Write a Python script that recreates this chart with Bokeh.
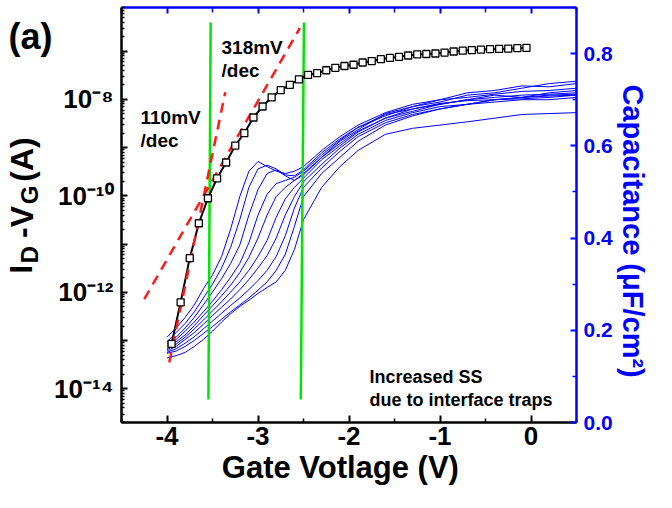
import math
from bokeh.plotting import figure
from bokeh.models import (Range1d, LinearAxis, FixedTicker, Label, LinearScale,
                          PrintfTickFormatter, CustomJSTickFormatter)
from bokeh.embed import file_html
from bokeh.resources import INLINE

FONT = "Liberation Sans"
BLUE = "#0000ff"
RED = "#ff1a1a"
GREEN = "#00e600"
NB = "\u00a0"

# ---------------- data ----------------
# I_D - V_G transfer curve (black squares)
vg_id = [-3.95, -3.85, -3.75, -3.65, -3.55, -3.45, -3.35, -3.25, -3.15, -3.05,
         -2.95, -2.85, -2.75, -2.65, -2.55, -2.45, -2.35, -2.25, -2.15, -2.05,
         -1.95, -1.85, -1.75, -1.65, -1.55, -1.45, -1.35, -1.25, -1.15, -1.05,
         -0.95, -0.85, -0.75, -0.65, -0.55, -0.45, -0.35, -0.25, -0.15, -0.05]
id_a = [8.5e-14, 6.2e-13, 5.1e-12, 2.7e-11, 8.9e-11, 2.3e-10, 4.9e-10, 1.1e-9, 2.0e-9, 4.2e-9,
        7.1e-9, 1.1e-8, 1.55e-8, 2.0e-8, 2.6e-8, 3.2e-8, 3.5e-8, 4.0e-8, 4.5e-8, 4.9e-8,
        5.2e-8, 5.8e-8, 6.2e-8, 6.8e-8, 7.2e-8, 7.6e-8, 8.1e-8, 8.5e-8, 8.7e-8, 8.9e-8,
        9.3e-8, 9.8e-8, 1.02e-7, 1.05e-7, 1.07e-7, 1.10e-7, 1.11e-7, 1.12e-7, 1.15e-7, 1.17e-7]

# subthreshold-swing fit lines (red dashed)
ss110_v = [-3.975, -3.36]
ss110_i = [3.5e-14, 1.4e-8]
ss318_v = [-4.25, -2.54]
ss318_i = [7.2e-13, 3.0e-7]

# green vertical markers
green1_v = [-3.52, -3.545]
green2_v = [-2.495, -2.53]
green_i = [3.9e-7, 6.0e-15]

# C-V curves (blue), capacitance in uF/cm^2
cap_v = [-4.0, -3.9, -3.8, -3.7, -3.6, -3.5, -3.4, -3.3, -3.2, -3.1, -3.0, -2.9, -2.8, -2.7,
         -2.6, -2.5, -2.3, -2.1, -1.9, -1.6, -1.3, -1.0, -0.7, -0.4, -0.1, 0.2, 0.5]
cap_a = [0.185, 0.205, 0.228, 0.255, 0.29, 0.32, 0.36, 0.42, 0.49, 0.545, 0.566, 0.555, 0.545, 0.54,
         0.545, 0.555, 0.59, 0.62, 0.645, 0.672, 0.69, 0.70, 0.705, 0.712, 0.718, 0.72, 0.725]
cap_b = [0.175, 0.195, 0.215, 0.24, 0.27, 0.30, 0.335, 0.38, 0.44, 0.51, 0.55, 0.558, 0.55, 0.537,
         0.535, 0.548, 0.585, 0.615, 0.64, 0.665, 0.685, 0.695, 0.71, 0.715, 0.725, 0.735, 0.74]
cap_c = [0.17, 0.185, 0.205, 0.228, 0.255, 0.283, 0.312, 0.345, 0.385, 0.45, 0.505, 0.54, 0.548, 0.535,
         0.525, 0.537, 0.575, 0.61, 0.635, 0.67, 0.685, 0.70, 0.715, 0.72, 0.73, 0.728, 0.735]
cap_d = [0.165, 0.18, 0.198, 0.218, 0.24, 0.263, 0.288, 0.315, 0.345, 0.39, 0.45, 0.495, 0.518, 0.525,
         0.532, 0.545, 0.58, 0.612, 0.64, 0.668, 0.68, 0.69, 0.70, 0.705, 0.71, 0.712, 0.715]
cap_e = [0.16, 0.175, 0.19, 0.21, 0.232, 0.253, 0.275, 0.298, 0.325, 0.358, 0.40, 0.45, 0.49, 0.51,
         0.525, 0.54, 0.575, 0.605, 0.632, 0.66, 0.68, 0.692, 0.698, 0.70, 0.705, 0.71, 0.712]
cap_f = [0.158, 0.17, 0.185, 0.203, 0.222, 0.242, 0.262, 0.283, 0.305, 0.33, 0.36, 0.395, 0.445, 0.485,
         0.51, 0.53, 0.57, 0.60, 0.63, 0.66, 0.675, 0.69, 0.70, 0.71, 0.705, 0.715, 0.72]
cap_g = [0.155, 0.165, 0.18, 0.195, 0.213, 0.232, 0.25, 0.268, 0.288, 0.31, 0.335, 0.362, 0.40, 0.45,
         0.49, 0.522, 0.56, 0.595, 0.625, 0.655, 0.672, 0.685, 0.69, 0.70, 0.705, 0.708, 0.71]
cap_h = [0.152, 0.16, 0.172, 0.186, 0.203, 0.22, 0.237, 0.254, 0.27, 0.288, 0.308, 0.33, 0.36, 0.405,
         0.465, 0.51, 0.552, 0.588, 0.62, 0.65, 0.668, 0.68, 0.69, 0.695, 0.70, 0.70, 0.705]
cap_i = [0.15, 0.155, 0.165, 0.178, 0.193, 0.208, 0.224, 0.24, 0.255, 0.27, 0.287, 0.305, 0.33, 0.365,
         0.425, 0.49, 0.54, 0.575, 0.61, 0.645, 0.665, 0.68, 0.69, 0.70, 0.702, 0.705, 0.71]
cap_j = [0.14, 0.145, 0.152, 0.165, 0.18, 0.198, 0.218, 0.236, 0.252, 0.265, 0.28, 0.293, 0.305, 0.33,
         0.375, 0.44, 0.51, 0.555, 0.59, 0.625, 0.638, 0.645, 0.652, 0.66, 0.668, 0.67, 0.672]
cap_curves = [cap_a, cap_b, cap_c, cap_d, cap_e, cap_f, cap_g, cap_h, cap_i, cap_j]

# ticks and tick labels
x_ticks = [-4, -3, -2, -1, 0]
x_minor = [-4.5, -3.5, -2.5, -1.5, -0.5, 0.5]
id_ticks = [1e-14, 1e-13, 1e-12, 1e-11, 1e-10, 1e-9, 1e-8, 1e-7]
id_tick_labels = ["10\u207b\u00b9\u2074", "", "10\u207b\u00b9\u00b2", "",
                  "10\u207b\u00b9\u2070", "", "10\u207b\u2078", ""]
id_minor = [m * 10.0 ** e for e in range(-15, -6) for m in range(2, 10)]
cap_ticks = [0.0, 0.2, 0.4, 0.6, 0.8]
cap_minor = [0.1, 0.3, 0.5, 0.7, 0.9]

# titles
x_title = "Gate Votlage (V)"
y_title_main = ["I", "-V", "(A)"]
y_title_sub = ["D", "G"]
y2_title = "Capacitance (\u03bcF/cm\u00b2)"
panel_tag = "(a)"

# ---------------- figure ----------------
FL, FB, FT = 128, 430, 15      # frame left / bottom / top in page px
def sx(px): return px - FL
def sy(py): return FB - py

p = figure(width=656, height=492, x_range=Range1d(-4.5, 0.5),
           y_range=Range1d(2.0e-15, 8.0e-7), y_axis_type="log",
           output_backend="svg", toolbar_location=None,
           min_border_left=120, min_border_right=80,
           min_border_top=7, min_border_bottom=70)
p.extra_y_ranges = {"cap": Range1d(0, 0.9), "page": Range1d(FB, FT)}
p.extra_y_scales = {"cap": LinearScale(), "page": LinearScale()}
p.xgrid.visible = False
p.ygrid.visible = False
p.outline_line_color = None
p.background_fill_color = "white"

def style_axis(ax, color, maj_in, min_in):
    ax.axis_line_color = color
    ax.axis_line_width = 2.5
    ax.major_tick_line_color = color
    ax.minor_tick_line_color = color
    ax.major_tick_line_width = 2
    ax.minor_tick_line_width = 1.5
    ax.major_tick_in = maj_in
    ax.major_tick_out = 0
    ax.minor_tick_in = min_in
    ax.minor_tick_out = 0

LOOKUP = ("for (let k = 0; k < pos.length; k++) {"
          " if (Math.abs(pos[k] - tick) <= 1e-6 * Math.abs(pos[k])) return labs[k]; }"
          " return '';")

# bottom axis
xa = p.xaxis[0]
xa.ticker = FixedTicker(ticks=x_ticks, minor_ticks=x_minor)
xa.formatter = CustomJSTickFormatter(code="return tick.toFixed(0);")
style_axis(xa, "black", 7, 4)
xa.major_label_text_font = FONT
xa.major_label_text_font_style = "bold"
xa.major_label_text_font_size = "26px"
xa.major_label_text_color = "black"
xa.major_label_standoff = 4
xa.axis_label = x_title + NB * 2
xa.axis_label_text_font = FONT
xa.axis_label_text_font_style = "bold"
xa.axis_label_text_font_size = "31px"
xa.axis_label_text_color = "black"
xa.axis_label_standoff = 2

# left (log) axis
ya = p.yaxis[0]
ya.ticker = FixedTicker(ticks=id_ticks, minor_ticks=id_minor)
ya.formatter = CustomJSTickFormatter(args=dict(pos=id_ticks, labs=id_tick_labels), code=LOOKUP)
style_axis(ya, "black", 6, 3)
ya.major_label_text_font = FONT
ya.major_label_text_font_style = "bold"
ya.major_label_text_font_size = "26px"
ya.major_label_text_color = "black"
ya.major_label_standoff = 8

def ghost_axis(side, ticks, labels, size, orient, standoff, color="black"):
    ax = LinearAxis(y_range_name="page",
                    ticker=FixedTicker(ticks=ticks, minor_ticks=[]),
                    formatter=CustomJSTickFormatter(args=dict(pos=ticks, labs=labels), code=LOOKUP),
                    major_label_orientation=orient, major_label_standoff=standoff,
                    major_label_text_font=FONT, major_label_text_font_style="bold",
                    major_label_text_font_size=f"{size}px", major_label_text_color=color,
                    axis_line_color=None, major_tick_line_color=None, minor_tick_line_color=None,
                    major_tick_in=0, major_tick_out=0, minor_tick_in=0, minor_tick_out=0)
    p.add_layout(ax, side)
    return ax

# left title pieces (positions along the page y)
ghost_axis("left", [262.0, 202.5], y_title_sub, 24, "parallel", 9)
ghost_axis("left", [276.7, 229.5, 167.0], y_title_main, 32, "parallel", -27)
ghost_axis("left", [43.5], [panel_tag], 36, "horizontal", -52)

# top axis
top = LinearAxis(ticker=FixedTicker(ticks=x_ticks, minor_ticks=x_minor),
                 formatter=CustomJSTickFormatter(code="return '';"),
                 major_label_text_font_size="0px", major_label_standoff=0)
style_axis(top, BLUE, 6, 5)
p.add_layout(top, "above")

# right axis
ra = LinearAxis(y_range_name="cap",
                ticker=FixedTicker(ticks=cap_ticks, minor_ticks=cap_minor),
                formatter=PrintfTickFormatter(format="%.1f"))
style_axis(ra, BLUE, 6, 4)
ra.major_label_text_font = FONT
ra.major_label_text_font_style = "bold"
ra.major_label_text_font_size = "21px"
ra.major_label_text_color = BLUE
ra.major_label_standoff = 7
ra.axis_label = NB * 4 + y2_title
ra.axis_label_text_font = FONT
ra.axis_label_text_font_style = "bold"
ra.axis_label_text_font_size = "29px"
ra.axis_label_text_color = BLUE
ra.axis_label_standoff = 1
p.add_layout(ra, "right")

# ---------------- glyphs ----------------
p.multi_line(xs=[cap_v] * len(cap_curves), ys=cap_curves, y_range_name="cap",
             line_color=BLUE, line_width=1)
p.line(green1_v, green_i, line_color=GREEN, line_width=2.5)
p.line(green2_v, green_i, line_color=GREEN, line_width=2.5)
p.line(vg_id, id_a, line_color="black", line_width=2)
p.line(ss110_v, ss110_i, line_color=RED, line_width=2.5, line_dash="10 7")
p.line(ss318_v, ss318_i, line_color=RED, line_width=2.5, line_dash="10 7")
p.scatter(vg_id, id_a, marker="square", size=7, fill_color="white",
          line_color="black", line_width=1.3)

# ---------------- in-frame annotations ----------------
def lab(text, px, py, size, color="black"):
    p.add_layout(Label(x=sx(px), y=sy(py), x_units="screen", y_units="screen",
                       text=text, text_font=FONT, text_font_style="bold",
                       text_font_size=f"{size}px", text_color=color,
                       text_align="left", text_baseline="alphabetic"))

lab("318mV", 228, 55, 19)
lab("/dec", 228, 78, 19)
lab("110mV", 147, 125, 19)
lab("/dec", 147, 148, 19)
lab("Increased SS", 376, 384, 18)
lab("due to interface traps", 376, 407, 18)

open("out.html", "w").write(file_html(p, INLINE))
